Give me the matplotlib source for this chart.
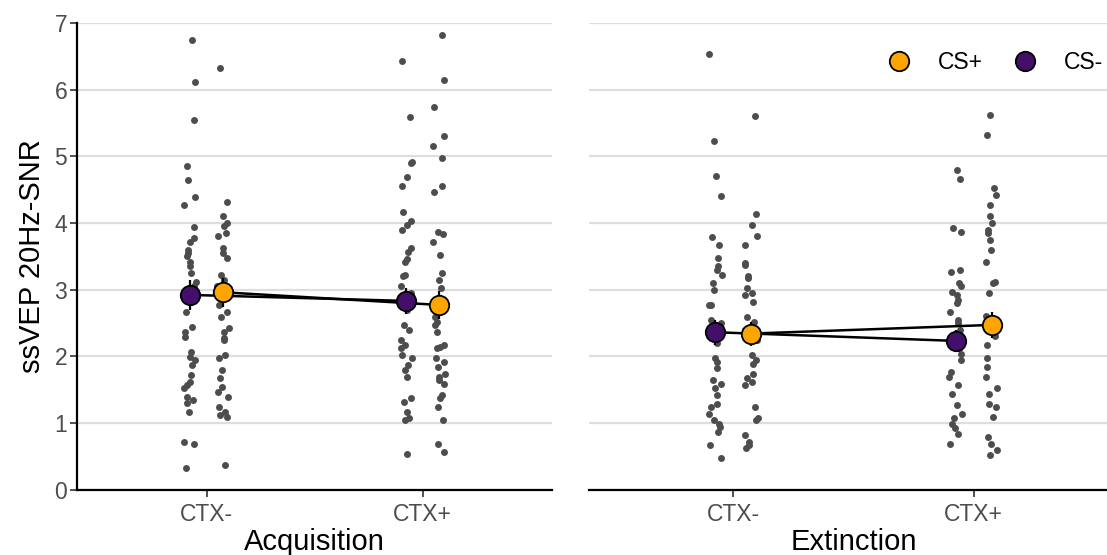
import numpy as np
import matplotlib.pyplot as plt

plt.rcParams['font.family'] = ['Liberation Sans', 'DejaVu Sans']

phases = ["Acquisition", "Extinction"]
contexts = ["CTX-", "CTX+"]
cues = ["CS+", "CS-"]
cue_colors = {"CS+": "#FFA500", "CS-": "#440F6B"}
cue_offset = {"CS-": -0.075, "CS+": 0.075}

# single-subject SNR values per phase / context / cue
acq_ctxm_csm = [6.74, 6.11, 5.54, 4.86, 4.65, 4.39, 4.27, 3.94, 3.77, 3.72, 3.60, 3.55, 3.50,
                3.42, 3.35, 3.25, 3.12, 3.05, 3.00, 2.95, 2.85, 2.67, 2.44, 2.37, 2.29, 2.07,
                1.99, 1.94, 1.87, 1.72, 1.62, 1.57, 1.52, 1.39, 1.34, 1.30, 1.17, 0.72, 0.68, 0.33]
acq_ctxm_csp = [6.32, 4.32, 4.11, 4.00, 3.95, 3.85, 3.80, 3.62, 3.55, 3.47, 3.22, 3.15, 3.05,
                3.00, 2.90, 2.77, 2.67, 2.59, 2.42, 2.37, 2.27, 2.24, 2.02, 1.97, 1.79, 1.67,
                1.54, 1.47, 1.39, 1.24, 1.17, 1.12, 1.09, 0.37]
acq_ctxp_csm = [6.43, 5.59, 4.92, 4.90, 4.69, 4.55, 4.16, 4.03, 3.97, 3.90, 3.63, 3.56, 3.46,
                3.42, 3.22, 3.20, 3.05, 2.95, 2.88, 2.70, 2.47, 2.40, 2.24, 2.17, 2.12, 2.02,
                1.97, 1.87, 1.79, 1.69, 1.37, 1.32, 1.17, 1.07, 1.04, 0.53]
acq_ctxp_csp = [6.82, 6.15, 5.74, 5.30, 5.15, 4.98, 4.55, 4.47, 3.87, 3.84, 3.72, 3.52, 3.25,
                3.15, 3.02, 2.85, 2.59, 2.52, 2.47, 2.37, 2.17, 2.14, 2.12, 1.97, 1.92, 1.84,
                1.74, 1.69, 1.64, 1.59, 1.42, 1.37, 1.24, 1.04, 0.69, 0.57]
ext_ctxm_csm = [6.54, 5.23, 4.70, 4.41, 3.79, 3.67, 3.47, 3.35, 3.30, 3.22, 3.10, 3.00, 2.77,
                2.77, 2.54, 2.50, 2.40, 2.30, 2.20, 1.97, 1.92, 1.82, 1.64, 1.59, 1.52, 1.42,
                1.29, 1.24, 1.14, 1.04, 0.99, 0.94, 0.87, 0.67, 0.47]
ext_ctxm_csp = [5.60, 4.13, 3.97, 3.80, 3.67, 3.40, 3.37, 3.20, 3.17, 3.02, 2.95, 2.92, 2.82,
                2.59, 2.52, 2.40, 2.30, 2.25, 2.02, 1.94, 1.89, 1.74, 1.67, 1.62, 1.57, 1.24,
                1.07, 1.04, 0.82, 0.72, 0.67, 0.62]
ext_ctxp_csm = [4.80, 4.66, 3.92, 3.87, 3.30, 3.27, 3.10, 3.05, 2.97, 2.92, 2.85, 2.80, 2.67,
                2.54, 2.50, 2.40, 2.30, 2.20, 2.12, 2.04, 1.94, 1.77, 1.69, 1.57, 1.44, 1.27,
                1.14, 1.07, 0.99, 0.92, 0.84, 0.69]
ext_ctxp_csp = [5.62, 5.32, 4.52, 4.42, 4.27, 4.10, 4.00, 3.90, 3.85, 3.75, 3.60, 3.42, 3.12,
                3.10, 2.95, 2.60, 2.30, 2.17, 1.97, 1.84, 1.69, 1.52, 1.44, 1.29, 1.24, 1.09,
                0.79, 0.69, 0.59, 0.52]

raw = {
    ("Acquisition", "CTX-", "CS-"): acq_ctxm_csm,
    ("Acquisition", "CTX-", "CS+"): acq_ctxm_csp,
    ("Acquisition", "CTX+", "CS-"): acq_ctxp_csm,
    ("Acquisition", "CTX+", "CS+"): acq_ctxp_csp,
    ("Extinction", "CTX-", "CS-"): ext_ctxm_csm,
    ("Extinction", "CTX-", "CS+"): ext_ctxm_csp,
    ("Extinction", "CTX+", "CS-"): ext_ctxp_csm,
    ("Extinction", "CTX+", "CS+"): ext_ctxp_csp,
}

# group means and standard errors, [CTX-, CTX+]
mean_acq = {"CS-": [2.92, 2.83], "CS+": [2.96, 2.77]}
se_acq = {"CS-": [0.22, 0.20], "CS+": [0.22, 0.21]}
mean_ext = {"CS-": [2.36, 2.23], "CS+": [2.34, 2.47]}
se_ext = {"CS-": [0.19, 0.17], "CS+": [0.18, 0.20]}
means = {"Acquisition": mean_acq, "Extinction": mean_ext}
ses = {"Acquisition": se_acq, "Extinction": se_ext}

fig = plt.figure(figsize=(11.07, 5.55), dpi=100)
ax1 = fig.add_axes([0.0696, 0.118, 0.4291, 0.8405])
ax2 = fig.add_axes([0.5321, 0.118, 0.4779, 0.8405])

rng = np.random.default_rng(7)
xpos = np.arange(1, len(contexts) + 1)

for ax, phase in zip([ax1, ax2], phases):
    for i, ctx in enumerate(contexts):
        for cue in ["CS-", "CS+"]:
            vals = np.array(raw[(phase, ctx, cue)])
            jit = rng.uniform(-0.028, 0.028, len(vals))
            ax.plot(xpos[i] + cue_offset[cue] + jit, vals, 'o', ms=5,
                    color="#4D4D4D", mew=0, zorder=2)
    for cue in ["CS-", "CS+"]:
        x = xpos + cue_offset[cue]
        m = means[phase][cue]
        ax.plot(x, m, '-', color="black", lw=1.8, zorder=3)
        ax.errorbar(x, m, yerr=ses[phase][cue], fmt='none', ecolor="black",
                    elinewidth=1.6, capsize=0, zorder=4)
        ax.plot(x, m, 'o', ms=14, mfc=cue_colors[cue], mec="black", mew=1.3, zorder=5)

    ax.set_xlim(0.4, 2.6)
    ax.set_ylim(0, 7)
    ax.set_yticks(range(0, 8))
    ax.set_xticks(xpos)
    ax.set_xticklabels(contexts)
    ax.yaxis.grid(True, color="#DEDEDE", lw=1.6)
    ax.set_axisbelow(True)
    for side in ["top", "right"]:
        ax.spines[side].set_visible(False)
    ax.spines["bottom"].set_linewidth(1.6)
    ax.spines["left"].set_linewidth(1.6)
    ax.tick_params(axis="both", labelsize=16.5, labelcolor="#4D4D4D", color="#333333",
                   length=5, width=1.2, pad=2)
    ax.tick_params(axis="x", pad=5)
    ax.set_xlabel(phase, fontsize=21, labelpad=1)

ax1.set_ylabel("ssVEP 20Hz-SNR", fontsize=21, labelpad=6)
ax2.spines["left"].set_visible(False)
ax2.tick_params(axis="y", left=False, labelleft=False)

handles = [plt.Line2D([], [], ls='none', marker='o', ms=14, mfc=cue_colors[c],
                      mec="black", mew=1.3) for c in cues]
ax2.legend(handles, cues, ncol=2, frameon=False, fontsize=16.5, loc="upper right",
           bbox_to_anchor=(1.01, 0.985), handletextpad=0.7, columnspacing=0.8)

fig.savefig("out.png", dpi=100)
